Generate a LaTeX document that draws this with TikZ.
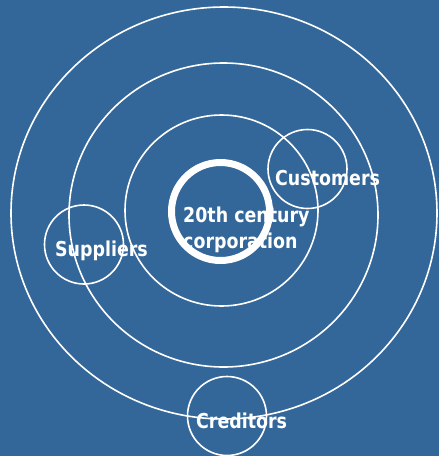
\documentclass[tikz,border=0pt]{standalone}
\usepackage{fontspec}
\newfontfamily\lblfont{DejaVu Sans}[FakeStretch=0.85]
\definecolor{slide}{RGB}{52,103,153}

\begin{document}
\begin{tikzpicture}[x=1pt,y=-1pt,
		ring/.style={draw=white,line width=1.6pt},
		party/.style={circle,draw=white,line width=1.6pt,minimum size=79pt,inner sep=0pt},
		lbl/.style={anchor=base west,inner sep=0pt,text=white,font=\lblfont\bfseries\fontsize{20.5}{25.6}\selectfont}]
				\fill[slide] (0,0) rectangle (439,456);
				\useasboundingbox (0,0) rectangle (439,456);
				\coordinate (O1) at (224,213);
				\coordinate (O2) at (223.5,215);
				\coordinate (O3) at (221.5,210.5);
				\draw[ring] (O1) ellipse [x radius=213pt,y radius=206pt];
				\draw[ring] (O2) ellipse [x radius=154.5pt,y radius=152pt];
				\draw[ring] (O3) ellipse [x radius=96.5pt,y radius=95.5pt];
				\node[circle,draw=white,line width=7pt,minimum size=98pt,inner sep=0pt] (corp) at (220.5,211.5) {};
				\node[party] (cust) at (307.5,169) {};
				\node[party] (supp) at (84,244.5) {};
				\node[party] (cred) at (227,416) {};
				%\node[lbl] at (O3) {};
				\node[lbl,align=left] (corptxt) at (183,248.3) {20th century\\corporation};
				\node[lbl] (custtxt) at (275,185) {Customers};
				\node[lbl] (supptxt) at (55,256) {Suppliers};
				\node[lbl] (credtxt) at (196,428.3) {Creditors};
			\end{tikzpicture}
\end{document}
